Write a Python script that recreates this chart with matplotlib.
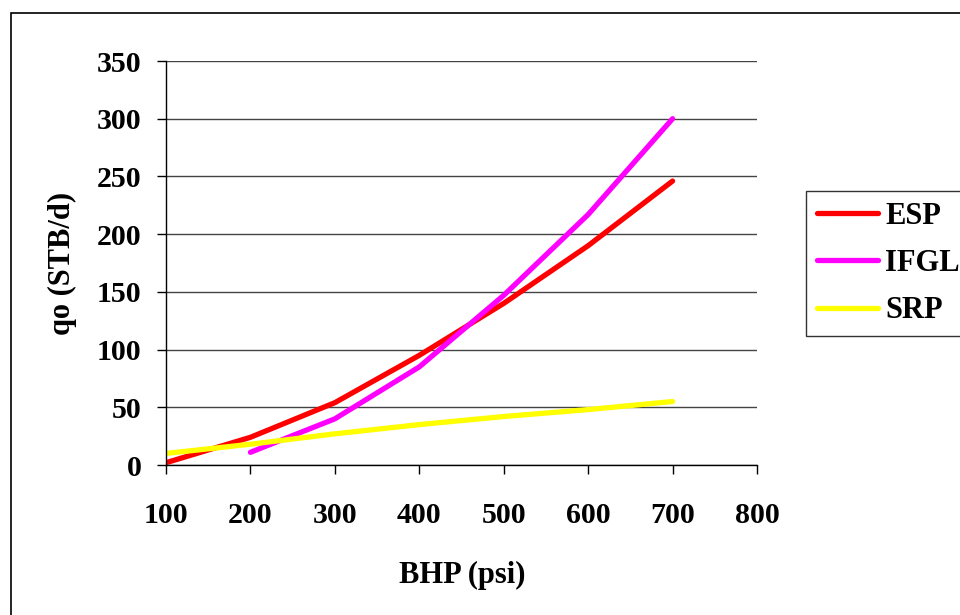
import matplotlib
matplotlib.use("Agg")
import matplotlib.pyplot as plt
from matplotlib.patches import Rectangle

# data
bhp = [100, 200, 300, 400, 500, 600, 700]
esp = [2, 24, 54, 95, 140, 190, 246]
ifgl_bhp = [200, 300, 400, 500, 600, 700]
ifgl = [11, 40, 85, 147, 217, 300]
srp = [10, 18, 27, 35, 42, 48, 55]

x_ticks = [100, 200, 300, 400, 500, 600, 700, 800]
y_ticks = [0, 50, 100, 150, 200, 250, 300, 350]

plt.rcParams['font.family'] = ['Liberation Serif', 'DejaVu Serif']
plt.rcParams['font.weight'] = 'bold'

fig = plt.figure(figsize=(9.6, 6.15), dpi=100)
W, H = 960, 615
ax = fig.add_axes([166 / W, 1 - 465 / H, (757 - 166) / W, (465 - 61) / H])

ax.plot(bhp, esp, color='#FF0000', lw=3.8, label='ESP', solid_capstyle='round')
ax.plot(ifgl_bhp, ifgl, color='#FF00FF', lw=3.8, label='IFGL', solid_capstyle='round')
ax.plot(bhp, srp, color='#FFFF00', lw=3.8, label='SRP', solid_capstyle='round')

ax.set_xlim(100, 800)
ax.set_ylim(0, 350)
ax.set_xticks(x_ticks)
ax.set_yticks(y_ticks)
ax.tick_params(direction='out', length=6.5, width=1, colors='black', labelsize=21.5)
ax.tick_params(axis='x', pad=20)
ax.tick_params(axis='y', pad=11)
for lab in ax.get_xticklabels() + ax.get_yticklabels():
    lab.set_fontweight('bold')

ax.grid(axis='y', color='#444444', lw=1)
ax.set_axisbelow(True)
for s in ['top', 'right']:
    ax.spines[s].set_visible(False)
for s in ['left', 'bottom']:
    ax.spines[s].set_linewidth(1)
    ax.spines[s].set_color('black')

fig.text(462 / W, 1 - 575 / H, 'BHP (psi)', ha='center', va='center', fontsize=22, fontweight='bold')
fig.text(62 / W, 1 - 263 / H, 'qo (STB/d)', ha='center', va='center', rotation=90, fontsize=22, fontweight='bold')

leg = fig.legend(loc='upper left', bbox_to_anchor=(806 / W, 1 - 191 / H), frameon=True,
                 fancybox=False, edgecolor='black', fontsize=22, handlelength=2.0,
                 handletextpad=0.25, labelspacing=0.6, borderpad=0.35, borderaxespad=0)
leg.get_frame().set_linewidth(1)
for t in leg.get_texts():
    t.set_fontweight('bold')

# outer chart border (runs off the right and bottom edges)
fig.add_artist(Rectangle((11 / W, -0.1), 2, 1 - 13 / H + 0.1, transform=fig.transFigure,
                         fill=False, edgecolor='black', lw=1.2))

fig.savefig('out.png', dpi=100)
